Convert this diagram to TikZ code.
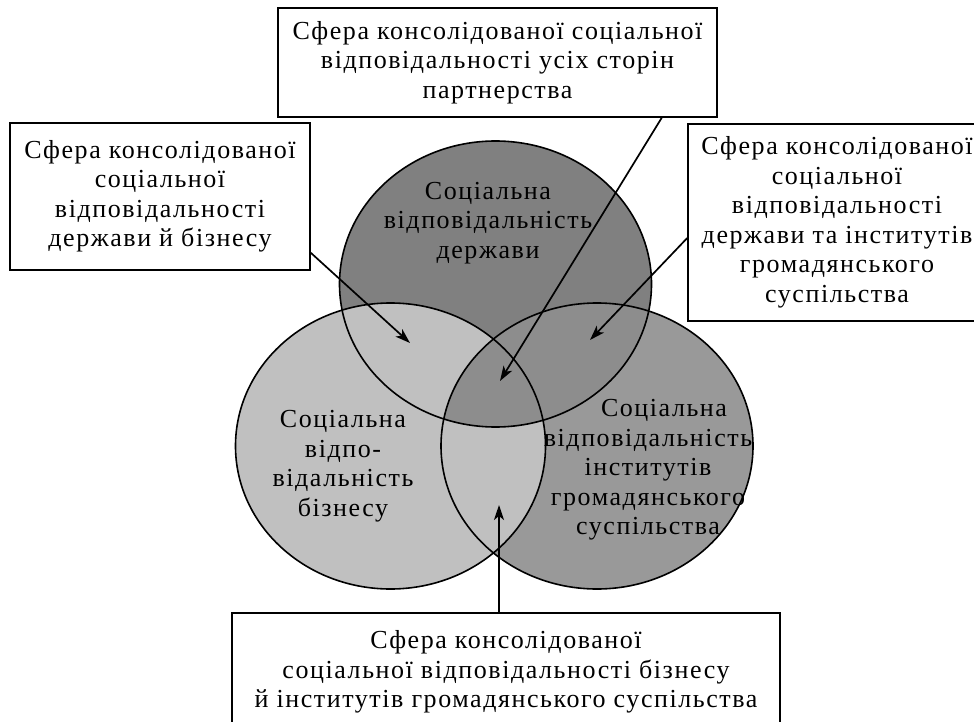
\documentclass[tikz,border=0pt]{standalone}
\usepackage{fontspec}
\setmainfont[LetterSpace=6]{Liberation Serif}
\usepackage{tikz}
\usetikzlibrary{arrows.meta}

\definecolor{cderzh}{HTML}{808080}
\definecolor{cgrom}{HTML}{999999}
\definecolor{cbiz}{HTML}{C0C0C0}
\definecolor{cspil}{HTML}{8D8D8D}

\tikzset{
  sferabox/.style={draw, line width=1.5pt, fill=white, align=center, inner sep=0pt},
  krugtext/.style={align=center, inner sep=0pt},
  krug/.style={line width=1.6pt},
  strilka/.style={line width=1.7pt, -{Stealth[length=15pt,width=10pt,inset=4pt]}}
}

% Circles: paths
\def\derzhava{(495.5,284) ellipse [x radius=156pt, y radius=143pt]}
\def\biznes{(390.5,446) ellipse [x radius=155pt, y radius=143pt]}
\def\gromada{(597,446) ellipse [x radius=156pt, y radius=143pt]}

\begin{document}
\begin{tikzpicture}[x=1pt, y=-1pt, font=\fontsize{26}{29.5}\selectfont]

    \useasboundingbox (0,0) rectangle (974,722);
    \clip (0,0) rectangle (974,722);

    % Circles: fills
    \fill[cderzh] \derzhava;
    \fill[cgrom] \gromada;
    \fill[cbiz] \biznes;
    \begin{scope}
      \clip \derzhava;
      \fill[cspil] \gromada;
    \end{scope}

    % Circles: outlines
    \draw[krug] \derzhava;
    \draw[krug] \biznes;
    \draw[krug] \gromada;

    % Labels: circles
    \node[krugtext] (tderzh) at (488,223) {Соціальна\\відповідальність\\держави};
    \node[krugtext] (tbiz) at (343,466) {Соціальна\\відпо-\\відальність\\бізнесу};
    \node[krugtext] (tgrom) at (648,470) {\hspace*{32pt}Соціальна\\відповідальність\\інститутів\\громадянського\\суспільства};

    % Boxes: spheres
    \node[sferabox, minimum width=439pt, minimum height=109pt] (topbox) at (497.5,62.5)
      {Сфера консолідованої соціальної\\відповідальності усіх сторін\\партнерства};
    \node[sferabox, minimum width=300pt, minimum height=147pt] (leftbox) at (160,196.5)
      {Сфера консолідованої\\соціальної\\відповідальності\\держави й бізнесу};
    \node[sferabox, minimum width=298pt, minimum height=197pt] (rightbox) at (837,222.5)
      {Сфера консолідованої\\соціальної\\відповідальності\\держави та інститутів\\громадянського\\суспільства};
    \node[sferabox, minimum width=548pt, minimum height=118pt] (botbox) at (506,672)
      {Сфера консолідованої\\соціальної відповідальності бізнесу\\й інститутів громадянського суспільства};

    % Points: arrow tips in the overlaps
    \coordinate (tipall) at (500,381);
    \coordinate (tipdb) at (410,343);
    \coordinate (tipdg) at (590,340);
    \coordinate (tipbg) at (499,505);

    % Arrows: boxes to overlaps
    \draw[strilka] ([xshift=-56pt]topbox.south east) -- (tipall);
    \draw[strilka] ([yshift=18pt]leftbox.south east) -- (tipdb);
    \draw[strilka] ([yshift=-15.5pt]rightbox.west) -- (tipdg);
    \draw[strilka] (botbox.north -| tipbg) -- (tipbg);

\end{tikzpicture}
\end{document}
